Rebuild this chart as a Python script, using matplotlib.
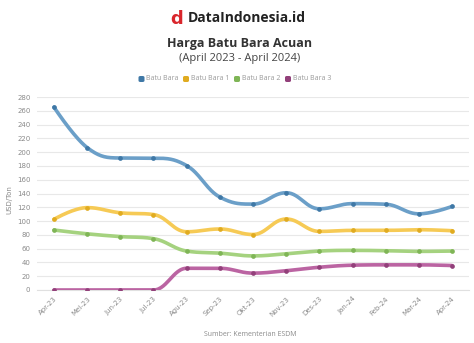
import numpy as np
import matplotlib
matplotlib.use("Agg")
import matplotlib.pyplot as plt
from matplotlib.patches import FancyBboxPatch

months = ["Apr-23", "Mei-23", "Jun-23", "Jul-23", "Agu-23", "Sep-23", "Okt-23",
          "Nov-23", "Des-23", "Jan-24", "Feb-24", "Mar-24", "Apr-24"]
hba = [265.3, 206.6, 191.5, 191.3, 180.5, 134.8, 124.6, 141.1, 117.8, 125.3, 124.4, 110.5, 121.2]
hba1 = [102.5, 119.5, 112.0, 109.5, 84.5, 88.5, 80.5, 103.0, 85.0, 86.5, 86.5, 87.5, 86.0]
hba2 = [87.0, 81.5, 77.5, 74.5, 56.5, 53.5, 49.5, 52.5, 56.5, 57.5, 57.0, 56.0, 56.5]
hba3 = [0.0, 0.0, 0.0, 0.0, 31.5, 31.5, 24.5, 28.0, 33.0, 36.0, 36.5, 36.5, 35.5]
series_names = ["Batu Bara", "Batu Bara 1", "Batu Bara 2", "Batu Bara 3"]
yticks = list(range(0, 281, 20))

colors = ["#6b9fc8", "#f6ca55", "#a5d27f", "#bb64a2"]
mcolors = ["#3f78a6", "#e0ab20", "#7fb556", "#92407a"]

W, H = 474, 343
fig = plt.figure(figsize=(W / 100, H / 100), dpi=100)
fig.patch.set_facecolor("white")

def fx(px):
    return px / W

def fy(py):
    return 1 - py / H

ax = fig.add_axes([fx(37.4), fy(290), fx(468.6) - fx(37.4), fy(97) - fy(290)])


def spline(xs, ys, smoothing=1.5, n=30):
    xs = np.asarray(xs, float)
    ys = np.asarray(ys, float)
    N = len(xs)
    lc = [(xs[i], ys[i]) for i in range(N)]
    rc = [(xs[i], ys[i]) for i in range(N)]
    for i in range(1, N - 1):
        px, py = xs[i], ys[i]
        lx, ly = xs[i - 1], ys[i - 1]
        nx, ny = xs[i + 1], ys[i + 1]
        lcx = (smoothing * px + lx) / (smoothing + 1)
        lcy = (smoothing * py + ly) / (smoothing + 1)
        rcx = (smoothing * px + nx) / (smoothing + 1)
        rcy = (smoothing * py + ny) / (smoothing + 1)
        corr = ((rcy - lcy) * (rcx - px)) / (rcx - lcx) + py - rcy
        lcy += corr
        rcy += corr
        if lcy > ly and lcy > py:
            lcy = max(ly, py); rcy = 2 * py - lcy
        elif lcy < ly and lcy < py:
            lcy = min(ly, py); rcy = 2 * py - lcy
        if rcy > ny and rcy > py:
            rcy = max(ny, py); lcy = 2 * py - rcy
        elif rcy < ny and rcy < py:
            rcy = min(ny, py); lcy = 2 * py - rcy
        lc[i] = (lcx, lcy)
        rc[i] = (rcx, rcy)
    t = np.linspace(0, 1, n)[:, None]
    out = []
    for i in range(N - 1):
        p0 = np.array([xs[i], ys[i]])
        p1 = np.array(rc[i])
        p2 = np.array(lc[i + 1])
        p3 = np.array([xs[i + 1], ys[i + 1]])
        b = ((1 - t) ** 3) * p0 + 3 * ((1 - t) ** 2) * t * p1 + 3 * (1 - t) * t ** 2 * p2 + t ** 3 * p3
        out.append(b if i == 0 else b[1:])
    out = np.vstack(out)
    return out[:, 0], out[:, 1]

x = np.arange(len(months))
for vals, c, mc in zip([hba, hba1, hba2, hba3], colors, mcolors):
    sx, sy = spline(x, vals)
    ax.plot(sx, sy, color=c, lw=2.6, solid_capstyle="round", zorder=3)
    ax.plot(x, vals, "o", color=mc, ms=3.4, mew=0, zorder=4)

ax.set_xlim(-0.5, len(months) - 0.5)
ax.set_ylim(0, 280)
ax.set_yticks(yticks)
ax.set_yticklabels([str(v) for v in yticks], fontsize=5, color="#8a8a8a")
ax.set_xticks(x)
ax.set_xticklabels(months, fontsize=5, color="#8a8a8a", rotation=45, ha="right",
                   va="top", rotation_mode="anchor")
ax.tick_params(axis="both", length=0, pad=5)
ax.tick_params(axis="x", pad=4)
ax.grid(axis="y", color="#e8e8e8", lw=0.8)
ax.set_axisbelow(True)
for s in ["top", "right", "left"]:
    ax.spines[s].set_visible(False)
ax.spines["bottom"].set_color("#e0e0e0")
ax.spines["bottom"].set_linewidth(0.8)
ax.set_ylabel("USD/Ton", fontsize=5, color="#8a8a8a")
ax.yaxis.set_label_coords((12 - 37.4) / 431.2, 0.47)

# titles
fig.text(fx(188), fy(18), "DataIndonesia.id", fontsize=10, fontweight="bold",
         color="#222222", ha="left", va="center", family="Open Sans")
fig.text(fx(177), fy(18.5), "d", fontsize=13, fontweight="bold", color="#d9262c",
         ha="center", va="center", family="DejaVu Sans")
fig.text(fx(240), fy(43), "Harga Batu Bara Acuan", fontsize=9, fontweight="bold",
         color="#333333", ha="center", va="center", family="Open Sans")
fig.text(fx(240), fy(58), "(April 2023 - April 2024)", fontsize=8,
         color="#444444", ha="center", va="center", family="Open Sans")

# legend
leg_x = [141.5, 186, 237, 288]
for lx, name, c in zip(leg_x, series_names, mcolors):
    fig.patches.append(FancyBboxPatch((fx(lx - 3), fy(82)), fx(6), fy(76) - fy(82),
                                      boxstyle="round,pad=0,rounding_size=0.004",
                                      transform=fig.transFigure, facecolor=c,
                                      edgecolor="none"))
    fig.text(fx(lx + 5), fy(79), name, fontsize=5, color="#9a9a9a", ha="left",
             va="center", family="Open Sans")

fig.text(fx(250), fy(334), "Sumber: Kementerian ESDM", fontsize=5, color="#8a8a8a",
         ha="center", va="center", family="Open Sans")

fig.savefig("out.png", dpi=100, facecolor="white")
